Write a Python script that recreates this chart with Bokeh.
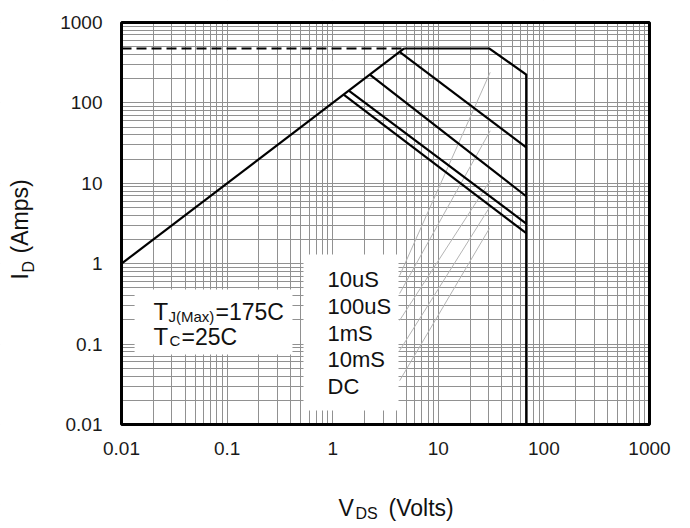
import math
from bokeh.plotting import figure
from bokeh.models import FixedTicker, BoxAnnotation, Label, Grid, Range1d
from bokeh.embed import file_html
from bokeh.resources import INLINE

# ---------------- data ----------------
# RDS(on) limit (diagonal) and package-current limit (dashed)
rds_vds = [0.01, 4.75]
rds_id = [1.0, 475.0]
pkg_vds = [0.01, 4.75]
pkg_id = [475.0, 475.0]
# pulse-width SOA boundaries
us10_vds = [4.75, 30.5, 68.0, 68.0]
us10_id = [475.0, 475.0, 225.0, 0.01]
us100_vds = [4.3, 68.0]
us100_id = [430.0, 27.9]
ms1_vds = [2.25, 68.0]
ms1_id = [225.0, 6.9]
ms10_vds = [1.42, 68.0]
ms10_id = [142.0, 3.15]
dc_vds = [1.27, 68.0]
dc_id = [127.0, 2.4]
# leader lines (grey) from legend labels to curves
lead_vds_start = [4.3, 4.3, 4.3, 4.3, 4.3]
lead_id_start = [0.71, 0.425, 0.197, 0.083, 0.035]
lead_vds_end = [31.0, 31.0, 31.0, 30.5, 30.5]
lead_id_end = [240.0, 45.0, 10.8, 5.0, 2.75]

legend_labels = ["10uS", "100uS", "1mS", "10mS", "DC"]
decade_ticks = [0.01, 0.1, 1, 10, 100, 1000]
decade_labels = ["0.01", "0.1", "1", "10", "100", "1000"]
minor_mults = [2, 3, 4, 5, 6, 7, 8, 9]

# ---------------- layout geometry (pixels) ----------------
W, H = 690, 528
FRAME_L, FRAME_R, FRAME_T, FRAME_B = 121, 649, 22, 424
XMIN, XMAX, YMIN, YMAX = 0.01, 1000.0, 0.01, 1000.0
xdec = (FRAME_R - FRAME_L) / (math.log10(XMAX) - math.log10(XMIN))
ydec = (FRAME_B - FRAME_T) / (math.log10(YMAX) - math.log10(YMIN))
x_start = 10 ** (math.log10(XMIN) - FRAME_L / xdec)
x_end = 10 ** (math.log10(XMAX) + (W - FRAME_R) / xdec)
y_start = 10 ** (math.log10(YMIN) - (H - FRAME_B) / ydec)
y_end = 10 ** (math.log10(YMAX) + FRAME_T / ydec)
BASE_FIX = 9  # Bokeh places alphabetic-baseline labels lower than the anchor

FONT = "Liberation Sans"
p = figure(width=W, height=H, x_axis_type="log", y_axis_type="log",
           x_range=Range1d(x_start, x_end), y_range=Range1d(y_start, y_end),
           x_axis_location=None, y_axis_location=None,
           output_backend="svg", toolbar_location=None,
           min_border=0, min_border_left=0, min_border_right=0,
           min_border_top=0, min_border_bottom=0)
p.outline_line_color = None
p.background_fill_color = "white"
p.border_fill_color = "white"

GRID_COLOR = "#919191"
minor_ticks = [m * d for d in decade_ticks[:-1] for m in minor_mults]
for dim in (0, 1):
    g = Grid(dimension=dim,
             ticker=FixedTicker(ticks=decade_ticks, minor_ticks=minor_ticks),
             bounds=(XMIN, XMAX) if dim == 0 else (YMIN, YMAX),
             cross_bounds=(YMIN, YMAX) if dim == 0 else (XMIN, XMAX),
             grid_line_color=GRID_COLOR, grid_line_width=1,
             minor_grid_line_color=GRID_COLOR, minor_grid_line_width=1)
    p.add_layout(g)

# leader lines
for x0, y0, x1, y1 in zip(lead_vds_start, lead_id_start, lead_vds_end, lead_id_end):
    p.line([x0, x1], [y0, y1], line_color="#b4b4b4", line_width=1)

# SOA curves
LW = 2.2
p.line(pkg_vds, pkg_id, line_color="black", line_width=2, line_dash="10 5")
p.line(rds_vds, rds_id, line_color="black", line_width=LW)
for xs, ys in ((us10_vds, us10_id), (us100_vds, us100_id), (ms1_vds, ms1_id),
               (ms10_vds, ms10_id), (dc_vds, dc_id)):
    p.line(xs, ys, line_color="black", line_width=LW, line_join="miter")

# white masks outside the plotting box (explicit, beyond the visible range)
far_l, far_r = x_start / 100, x_end * 100
far_b, far_t = y_start / 100, y_end * 100
for l, r, b, t in ((far_l, XMIN, far_b, far_t), (XMAX, far_r, far_b, far_t),
                   (far_l, far_r, far_b, YMIN), (far_l, far_r, YMAX, far_t)):
    p.add_layout(BoxAnnotation(left=l, right=r, bottom=b, top=t,
                               fill_color="white", fill_alpha=1, line_color=None))
# frame outline
p.add_layout(BoxAnnotation(left=XMIN, right=XMAX, bottom=YMIN, top=YMAX,
                           fill_alpha=0, line_color="black", line_width=3, line_alpha=1))

# white boxes behind the annotations
p.add_layout(BoxAnnotation(left=0.0133, right=0.416, bottom=0.0743, top=0.4775,
                           fill_color="white", fill_alpha=1, line_color=None))
p.add_layout(BoxAnnotation(left=0.529, right=4.2, bottom=0.0149, top=1.3,
                           fill_color="white", fill_alpha=1, line_color=None))

# tick labels
for t, s in zip(decade_ticks, decade_labels):
    p.add_layout(Label(x=t, y=YMIN, text=s, y_offset=-33 + BASE_FIX, text_align="center",
                       text_baseline="alphabetic", text_font=FONT,
                       text_font_size="19px", text_color="#1a1a1a"))
    p.add_layout(Label(x=XMIN, y=t, text=s, x_offset=-19, text_align="right",
                       text_baseline="middle", text_font=FONT,
                       text_font_size="19px", text_color="#1a1a1a"))


def lab(px, py, text, size, angle=0):
    # px, py: page pixel position of the text anchor (baseline start)
    if angle == 0:
        py -= BASE_FIX
    else:
        px -= BASE_FIX
    p.add_layout(Label(x=px, y=H - py, x_units="screen", y_units="screen", text=text,
                       text_font=FONT, text_font_size=size, text_color="#111111",
                       text_align="left", text_baseline="alphabetic",
                       angle=angle, angle_units="deg"))


# temperature annotation
lab(153, 320, "T", "24px")
lab(168, 325, "J(Max)", "15px")
lab(215, 320, "=175C", "23px")
lab(153, 345, "T", "24px")
lab(169, 349, "C", "15px")
lab(181, 345, "=25C", "23px")

# legend texts
for i, t in enumerate(legend_labels):
    lab(327, 288 + i * 26.8, t, "22px")

# axis titles
lab(338, 516, "V", "23px")
lab(355, 522, "DS", "16px")
lab(388, 516, "(Volts)", "23px")
lab(28, 279, "I", "23px", angle=90)
lab(37, 272, "D", "16px", angle=90)
lab(28, 253, "(Amps)", "23px", angle=90)

open("out.html", "w").write(file_html(p, INLINE))
